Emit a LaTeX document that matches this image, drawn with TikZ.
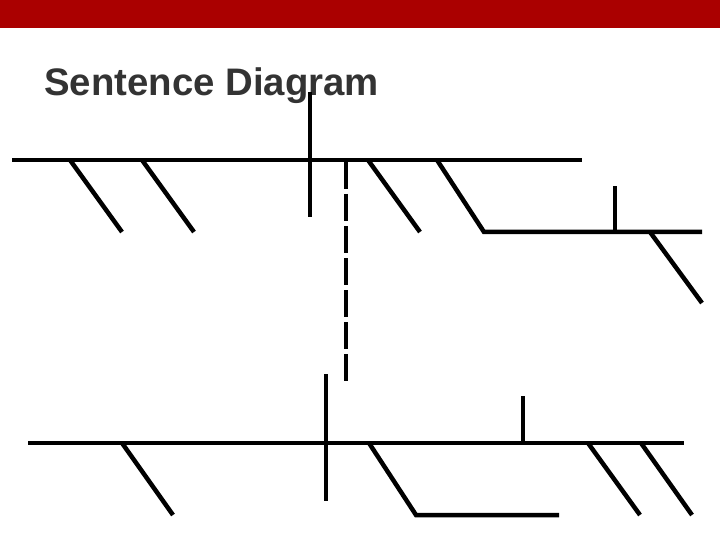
\documentclass[tikz,border=0pt]{standalone}
\usepackage{fontspec}
\setmainfont{Liberation Sans}
\definecolor{barred}{RGB}{170,0,0}
\definecolor{titlegray}{RGB}{51,51,51}
\tikzset{
  rule/.style={line width=4.5bp},
  linkrule/.style={line width=4bp, dash pattern=on 27bp off 5bp}
}

\begin{document}
\begin{tikzpicture}[x=1bp,y=-1bp] % pixel grid, y down
   \useasboundingbox (0,0) rectangle (720,540);
   \fill[barred] (0,0) rectangle (720,28);
   \node[anchor=base west, inner sep=0pt, text=titlegray,
     font=\bfseries\fontsize{38.5}{38.5}\selectfont] (title) at (44,96)
    {Sentence Diagram};
   % upper clause
   \coordinate (ubase) at (12,160);
   \coordinate (uend) at (582,160);
   \coordinate (usplit) at (310,160);
   \coordinate (ulink) at (346,160);
   \coordinate (uprep) at (437,160);
   \coordinate (uobj) at (484,232);
   \coordinate (uobjend) at (702,232);
   \coordinate (uobjsplit) at (615,232);
   \coordinate (uobjmod) at (650,232);
   \draw[rule] (ubase) -- (uend);
   \draw[rule] (310,92) -- (310,217);
   \draw[rule] (70,160) -- (122,232);
   \draw[rule] (142,160) -- (194,232);
   \draw[rule] (368,160) -- (420,232);
   \draw[rule] (uprep) -- (uobj) -- (uobjend);
   \draw[rule] (uobjsplit) -- (615,186);
   \draw[rule] (uobjmod) -- (702,303);
   \draw[linkrule] (346,162) -- (346,385);
   % lower clause
   \coordinate (lbase) at (28,443);
   \coordinate (lend) at (684,443);
   \coordinate (lprep) at (369,443);
   \coordinate (lobj) at (416,515);
   \coordinate (lobjend) at (559,515);
   \draw[rule] (lbase) -- (lend);
   \draw[rule] (326,374) -- (326,501);
   \draw[rule] (122,443) -- (173,515);
   \draw[rule] (lprep) -- (lobj) -- (lobjend);
   \draw[rule] (523,396) -- (523,443);
   \draw[rule] (588,443) -- (640,515);
   \draw[rule] (641,443) -- (692,515);
  \end{tikzpicture}
\end{document}
